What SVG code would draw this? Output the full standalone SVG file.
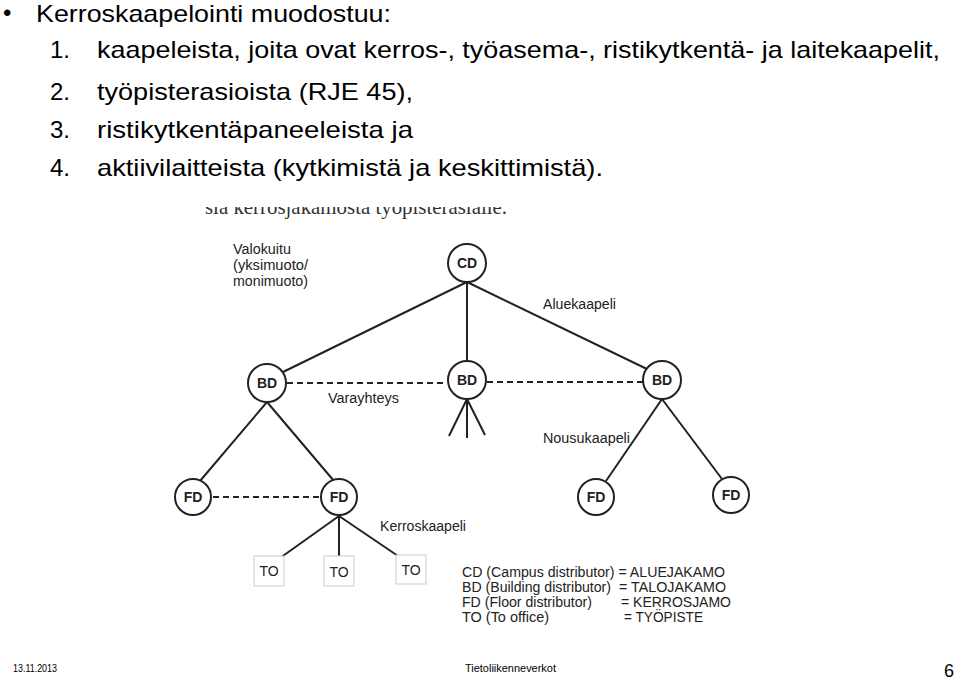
<svg xmlns="http://www.w3.org/2000/svg" width="960" height="682" viewBox="0 0 960 682">
<style>
.t{font-family:"Liberation Sans",Arial,sans-serif;fill:#000}
.h{font-size:24px}
.s{font-size:14px;fill:#222}
.n{font-size:14px;font-weight:bold;fill:#222;text-anchor:middle}
.c{fill:#fff;stroke:#222;stroke-width:2}
.b{fill:#fff;stroke:#ccc;stroke-width:1}
.l{stroke:#222;stroke-width:2;fill:none}
.d{stroke:#222;stroke-width:2;fill:none;stroke-dasharray:6,4}
</style>
<defs><clipPath id="cut"><rect x="190" y="207" width="340" height="20"/></clipPath></defs>
<rect width="960" height="682" fill="#fff"/>
<g id="heading">
<text class="t h" x="3" y="21">•</text>
<text class="t h" x="36" y="22" textLength="355" lengthAdjust="spacingAndGlyphs">Kerroskaapelointi muodostuu:</text>
<text class="t h" x="50" y="58">1.</text><text class="t h" x="97" y="58" textLength="843" lengthAdjust="spacingAndGlyphs">kaapeleista, joita ovat kerros-, työasema-, ristikytkentä- ja laitekaapelit,</text>
<text class="t h" x="50" y="100">2.</text><text class="t h" x="97" y="100" textLength="316" lengthAdjust="spacingAndGlyphs">työpisterasioista (RJE 45),</text>
<text class="t h" x="50" y="138">3.</text><text class="t h" x="97" y="138" textLength="316" lengthAdjust="spacingAndGlyphs">ristikytkentäpaneeleista  ja</text>
<text class="t h" x="50" y="176">4.</text><text class="t h" x="97" y="176" textLength="506" lengthAdjust="spacingAndGlyphs">aktiivilaitteista (kytkimistä ja keskittimistä).</text>
</g>
<text clip-path="url(#cut)" x="205" y="214" font-family="Liberation Serif,serif" font-size="21" fill="#333" textLength="302" lengthAdjust="spacingAndGlyphs">sia kerrosjakamosta työpisterasialle.</text>
<g id="connectors">
<path class="l" d="M467,282 L283,372 M467,282 L467,362 M467,282 L649,370"/>
<path class="l" d="M267,402 L200,481 M267,402 L334,481"/>
<path class="l" d="M467,399 L449,436 M467,399 L467,438 M467,399 L485,435"/>
<path class="l" d="M662,399 L606,481 M662,399 L722,479"/>
<path class="l" d="M339,516 L280,558 M339,516 L339,556 M339,516 L401,558"/>
<path class="d" d="M287,383 L447,383 M487,382 L643,382"/>
<path class="d" d="M213,497 L320,497"/>
</g>
<g id="CD"><circle class="c" cx="467" cy="263" r="19"/><text class="t n" x="467" y="268">CD</text></g>
<g id="BD1"><circle class="c" cx="267" cy="383" r="19"/><text class="t n" x="267" y="388">BD</text></g>
<g id="BD2"><circle class="c" cx="467" cy="380" r="19"/><text class="t n" x="467" y="385">BD</text></g>
<g id="BD3"><circle class="c" cx="662" cy="380" r="19"/><text class="t n" x="662" y="385">BD</text></g>
<g id="FD1"><circle class="c" cx="193" cy="497" r="18"/><text class="t n" x="193" y="502">FD</text></g>
<g id="FD2"><circle class="c" cx="339" cy="497" r="18"/><text class="t n" x="339" y="502">FD</text></g>
<g id="FD3"><circle class="c" cx="596" cy="497" r="18"/><text class="t n" x="596" y="502">FD</text></g>
<g id="FD4"><circle class="c" cx="731" cy="495" r="18"/><text class="t n" x="731" y="500">FD</text></g>
<g id="TO1"><rect class="b" x="254" y="556" width="30" height="30"/><text class="t s" x="269" y="576" text-anchor="middle">TO</text></g>
<g id="TO2"><rect class="b" x="324" y="556" width="30" height="30"/><text class="t s" x="339" y="577" text-anchor="middle">TO</text></g>
<g id="TO3"><rect class="b" x="396" y="555" width="30" height="29"/><text class="t s" x="411" y="575" text-anchor="middle">TO</text></g>
<g id="labels">
<text class="t s" x="233" y="254" textLength="58" lengthAdjust="spacingAndGlyphs">Valokuitu</text>
<text class="t s" x="233" y="270" textLength="75" lengthAdjust="spacingAndGlyphs">(yksimuoto/</text>
<text class="t s" x="233" y="286" textLength="75" lengthAdjust="spacingAndGlyphs">monimuoto)</text>
<text class="t s" x="543" y="309" textLength="73" lengthAdjust="spacingAndGlyphs">Aluekaapeli</text>
<text class="t s" x="328" y="403" textLength="71" lengthAdjust="spacingAndGlyphs">Varayhteys</text>
<text class="t s" x="543" y="443" textLength="87" lengthAdjust="spacingAndGlyphs">Nousukaapeli</text>
<text class="t s" x="380" y="531" textLength="86" lengthAdjust="spacingAndGlyphs">Kerroskaapeli</text>
</g>
<g id="legend">
<text class="t s" x="462" y="577" textLength="263" lengthAdjust="spacingAndGlyphs">CD (Campus distributor) = ALUEJAKAMO</text>
<text class="t s" x="462" y="592" textLength="149" lengthAdjust="spacingAndGlyphs">BD (Building distributor)</text><text class="t s" x="619" y="592" textLength="107" lengthAdjust="spacingAndGlyphs">= TALOJAKAMO</text>
<text class="t s" x="462" y="607" textLength="130" lengthAdjust="spacingAndGlyphs">FD (Floor distributor)</text><text class="t s" x="621" y="607" textLength="110" lengthAdjust="spacingAndGlyphs">= KERROSJAMO</text>
<text class="t s" x="462" y="622" textLength="87" lengthAdjust="spacingAndGlyphs">TO (To office)</text><text class="t s" x="624" y="622" textLength="79" lengthAdjust="spacingAndGlyphs">= TYÖPISTE</text>
</g>
<g id="footer">
<text class="t" x="13" y="672" font-size="10" textLength="44" lengthAdjust="spacingAndGlyphs">13.11.2013</text>
<text class="t" x="465" y="672" font-size="11" textLength="91" lengthAdjust="spacingAndGlyphs">Tietoliikenneverkot</text>
<text class="t" x="944" y="677" font-size="18">6</text>
</g>
</svg>
